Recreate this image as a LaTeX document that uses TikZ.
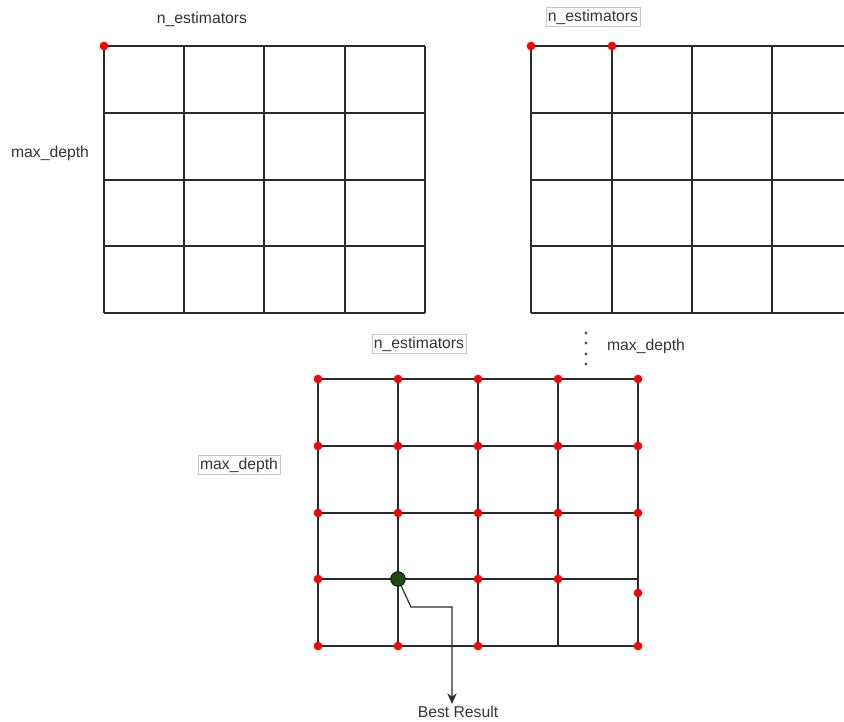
\documentclass[tikz,border=0pt]{standalone}
\usepackage[x11names]{xcolor}
\usepackage{fontspec}
\setmainfont{Liberation Sans}
\usetikzlibrary{arrows.meta,positioning}
\definecolor{gridgray}{HTML}{2B2B2B}
\definecolor{labelgray}{HTML}{333333}
\definecolor{boxgray}{HTML}{C8C8C8}
\definecolor{dotred}{HTML}{FF0000}
\definecolor{bestgreen}{HTML}{1E4A0E}
\tikzset{
  grid line/.style={draw=gridgray, line width=1.2pt},
  hyper/.style={text=labelgray, inner sep=1.5pt, font=\fontsize{11.8}{14}\selectfont},
  hyperbox/.style={hyper, draw=boxgray, line width=0.6pt},
  trial/.style={circle, fill=dotred, inner sep=0pt, minimum size=6.5pt},
  winner/.style={circle, fill=bestgreen, draw=black!80!bestgreen, line width=0.6pt, inner sep=0pt, minimum size=11pt},
}

\begin{document}
\begin{tikzpicture}[x=0.75pt,y=-0.75pt]
    \useasboundingbox (0,0) rectangle (844,722);

    % ----- Grille 1
    \foreach \x in {104,184,264,345,425}
        \draw[grid line] (\x,46) -- (\x,313);
    \foreach \y in {46,113,180,246,313}
        \draw[grid line] (104,\y) -- (425,\y);
    \node[trial] (g1a) at (104,46) {};
    \node[hyper] (ne1) at (202,19) {n\_estimators};
    \node[hyper] (md1) at (50,153) {max\_depth};

    % ----- Grille 2
    \foreach \x in {531,612,692,772}
        \draw[grid line] (\x,46) -- (\x,313);
    \foreach \y in {46,113,180,246,313}
        \draw[grid line] (531,\y) -- (850,\y);
    \node[trial] (g2a) at (531,46) {};
    \node[trial] (g2b) at (612,46) {};
    \node[hyperbox] (ne2) at (593,17) {n\_estimators};

    % ----- Points de suspension
    \foreach \y in {333,343,354,364}
        \fill[gridgray!80] (586,\y) circle (1.6);
    \node[hyper] (md2) at (646,346) {max\_depth};

    % ----- Grille 3
    \foreach \x in {318,398,478,558,638}
        \draw[grid line] (\x,379) -- (\x,646);
    \foreach \y in {379,446,513,579,646}
        \draw[grid line] (318,\y) -- (638,\y);
    \node[hyperbox] (ne3) at (419,344) {n\_estimators};
    \node[hyperbox] (md3) at (239,465) {max\_depth};

    \foreach \x/\y in {318/379, 398/379, 478/379, 558/379, 638/379,
                       318/446, 398/446, 478/446, 558/446, 638/446,
                       318/513, 398/513, 478/513, 558/513, 638/513,
                       318/579, 478/579, 558/579, 638/593,
                       318/646, 398/646, 478/646, 638/646}
        \node[trial] at (\x,\y) {};

    \node[winner] (best) at (398,579) {};
    \node[hyper] (res) at (458,712) {Best Result};

    \coordinate (kink) at (411,607);
    \coordinate (drop) at (452,607);
    \draw[gridgray, line width=0.9pt, -{Stealth[length=8pt,width=7pt]}]
        (best) -- (kink) -- (drop) -- (drop |- res.north);
\end{tikzpicture}
\end{document}
